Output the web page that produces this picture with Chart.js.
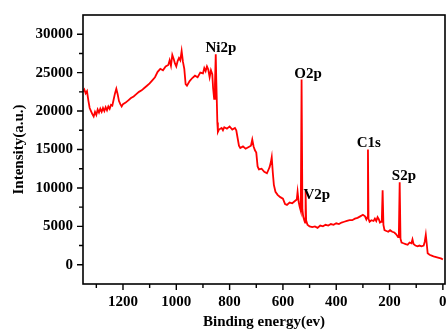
<!DOCTYPE html>
<html lang="en">
<head>
    <meta charset="UTF-8">
    <title>XPS Survey Spectrum</title>
    <style>
        body {
            margin: 0;
            background-color: #ffffff;
        }
        .chart-container {
            position: relative;
            width: 446px;
            height: 332px;
        }
    </style>
</head>
<body>
    <div class="chart-container">
        <canvas id="xpsChart" width="446" height="332"></canvas>
    </div>

    <script src="https://cdn.jsdelivr.net/npm/chart.js"></script>
    <script>
        // Binding energy (eV) and intensity
        const energy = [
            1350, 1345, 1340, 1335, 1330, 1325, 1320, 1315, 1310, 1305, 1300, 1295, 1290, 1285, 1280,
            1275, 1270, 1265, 1260, 1255, 1250, 1245, 1240, 1235, 1230, 1225, 1220, 1215, 1210, 1205,
            1200, 1190, 1180, 1170, 1160, 1150, 1140, 1130, 1120, 1110, 1100, 1090, 1080, 1070, 1060,
            1050, 1040, 1030, 1025, 1020, 1015, 1010, 1005, 1000, 995, 990, 985, 980, 975, 970,
            965, 960, 950, 940, 930, 920, 910, 900, 895, 890, 885, 880, 875, 870, 865,
            862, 858, 855, 852, 850, 846, 844, 840, 830, 825, 820, 810, 800, 790, 780,
            775, 770, 765, 760, 750, 740, 730, 720, 715, 710, 705, 700, 695, 690, 680,
            670, 660, 655, 650, 645, 642, 638, 634, 628, 620, 610, 600, 592, 585, 575,
            565, 555, 548, 545, 541, 537, 533, 530, 527, 524, 520, 517, 515, 513, 508,
            500, 490, 480, 470, 460, 450, 440, 430, 420, 410, 400, 390, 380, 370, 360,
            350, 340, 330, 320, 310, 300, 292, 287, 283, 281, 279, 275, 268, 260, 255,
            250, 245, 240, 236, 232, 229, 226, 223, 219, 212, 205, 198, 190, 182, 176,
            172, 168, 165, 162, 159, 155, 148, 140, 132, 125, 118, 114, 110, 103, 95,
            88, 80, 72, 68, 64, 61, 57, 50, 42, 35, 25, 15, 5, 0
        ];
        const intensity = [
            22500, 22800, 22300, 22600, 21400, 20400, 20000, 19600, 19300, 19900, 19500, 20200, 19800, 20300, 19900,
            20400, 20000, 20500, 20100, 20600, 20300, 20800, 20700, 21500, 22300, 22900, 22200, 21300, 20900, 20600,
            20900, 21100, 21400, 21700, 21900, 22200, 22500, 22700, 23000, 23300, 23600, 24000, 24400, 25100, 25500,
            25300, 25800, 26000, 26600, 25900, 27300, 26800, 26200, 25800, 26500, 26900, 26600, 27800, 26400, 25500,
            23500, 23300, 23900, 24300, 24600, 24400, 25000, 24900, 25600, 25200, 25800, 25400, 24400, 25300, 24800,
            23000, 21600, 23500, 27400, 24000, 18500, 17300, 17600, 17800, 17500, 17900, 17700, 18000, 17600, 17800,
            17500, 16500, 15500, 15200, 15400, 15100, 15300, 15500, 16300, 15400, 14900, 14600, 12800, 12400, 12500,
            12100, 11900, 12300, 12700, 13400, 14000, 12000, 10400, 9500, 9100, 8800, 8600, 7900, 7800, 8100,
            8000, 8300, 8500, 9500, 8200, 7500, 7000, 24100, 7200, 6300, 5800, 5500, 9700, 5800, 5200,
            5000, 4900, 5000, 4800, 5100, 5000, 5200, 5100, 5300, 5200, 5400, 5300, 5500, 5600, 5700,
            5800, 5800, 6000, 6100, 6300, 6500, 6300, 5900, 6200, 15000, 6000, 5600, 5800, 5700, 6000,
            5700, 6200, 5900, 5500, 5600, 5800, 9700, 5200, 4500, 4400, 4300, 4500, 4300, 4200, 4000,
            3800, 3600, 4200, 10750, 3400, 2900, 2800, 2700, 2600, 2900, 2800, 3300, 2700, 2500, 2400,
            2500, 2400, 2500, 3000, 3900, 2900, 1500, 1300, 1200, 1100, 1000, 900, 800, 700
        ];

        // Axis ticks
        const xTicks = [0, 200, 400, 600, 800, 1000, 1200];
        const yTicks = [0, 5000, 10000, 15000, 20000, 25000, 30000];
        const xMinorTicks = [100, 300, 500, 700, 900, 1100, 1300];
        const yMinorTicks = [2500, 7500, 12500, 17500, 22500, 27500];

        // Peak labels (anchored in data coordinates)
        const peakNames = ['Ni2p', 'O2p', 'V2p', 'C1s', 'S2p'];
        const peakLabelX = [833, 506, 473, 278, 146];
        const peakLabelY = [28230, 24860, 9070, 15800, 11530];

        const serif = { family: "'Liberation Serif', 'Times New Roman', serif", size: 15, weight: 'bold' };

        // frame, tick marks and peak labels
        const decorPlugin = {
            id: 'decor',
            afterDraw(chart) {
                const ctx = chart.ctx;
                const area = chart.chartArea;
                const xs = chart.scales.x;
                const ys = chart.scales.y;
                ctx.save();
                ctx.strokeStyle = '#000';
                ctx.lineWidth = 1.6;
                ctx.strokeRect(area.left, area.top, area.right - area.left, area.bottom - area.top);

                ctx.lineWidth = 1.4;
                ctx.beginPath();
                xTicks.forEach(v => {
                    const px = xs.getPixelForValue(v);
                    ctx.moveTo(px, area.bottom);
                    ctx.lineTo(px, area.bottom + 6);
                });
                xMinorTicks.forEach(v => {
                    const px = xs.getPixelForValue(v);
                    ctx.moveTo(px, area.bottom);
                    ctx.lineTo(px, area.bottom + 4);
                });
                yTicks.forEach(v => {
                    const py = ys.getPixelForValue(v);
                    ctx.moveTo(area.left, py);
                    ctx.lineTo(area.left - 6, py);
                });
                yMinorTicks.forEach(v => {
                    const py = ys.getPixelForValue(v);
                    ctx.moveTo(area.left, py);
                    ctx.lineTo(area.left - 4, py);
                });
                ctx.stroke();

                ctx.fillStyle = '#000';
                ctx.font = "bold 15px 'Liberation Serif', 'Times New Roman', serif";
                ctx.textAlign = 'center';
                ctx.textBaseline = 'middle';
                peakNames.forEach((name, i) => {
                    ctx.fillText(name, xs.getPixelForValue(peakLabelX[i]), ys.getPixelForValue(peakLabelY[i]));
                });
                ctx.restore();
            }
        };

        const chart = new Chart(document.getElementById('xpsChart').getContext('2d'), {
            type: 'scatter',
            data: {
                datasets: [{
                    data: energy.map((e, i) => ({ x: e, y: intensity[i] })),
                    showLine: true,
                    borderColor: '#ff0000',
                    borderWidth: 1.8,
                    pointRadius: 0,
                    tension: 0
                }]
            },
            options: {
                responsive: false,
                animation: false,
                layout: { padding: { top: 15, right: 1, left: 0, bottom: 0 } },
                plugins: {
                    legend: { display: false },
                    tooltip: { enabled: false }
                },
                scales: {
                    x: {
                        type: 'linear',
                        reverse: true,
                        min: -8,
                        max: 1350,
                        grid: { display: false, drawTicks: false },
                        border: { display: false },
                        ticks: { font: serif, color: '#000', padding: 9, maxRotation: 0, callback: v => String(v) },
                        title: {
                            display: true,
                            text: 'Binding energy(ev)',
                            font: serif,
                            color: '#000',
                            padding: { top: 0, bottom: 1 }
                        },
                        afterBuildTicks: s => { s.ticks = xTicks.map(v => ({ value: v })); },
                        afterFit: s => { s.height = 48; s.paddingLeft = 0; s.paddingRight = 0; }
                    },
                    y: {
                        min: -2500,
                        max: 32500,
                        grid: { display: false, drawTicks: false },
                        border: { display: false },
                        ticks: { font: serif, color: '#000', padding: 10, callback: v => String(v) },
                        title: {
                            display: true,
                            text: 'Intensity(a.u.)',
                            font: serif,
                            color: '#000',
                            padding: { top: 10, bottom: 0 }
                        },
                        afterBuildTicks: s => { s.ticks = yTicks.map(v => ({ value: v })); },
                        afterFit: s => { s.width = 83; s.paddingTop = 0; s.paddingBottom = 0; }
                    }
                }
            },
            plugins: [decorPlugin]
        });
    </script>
</body>
</html>
